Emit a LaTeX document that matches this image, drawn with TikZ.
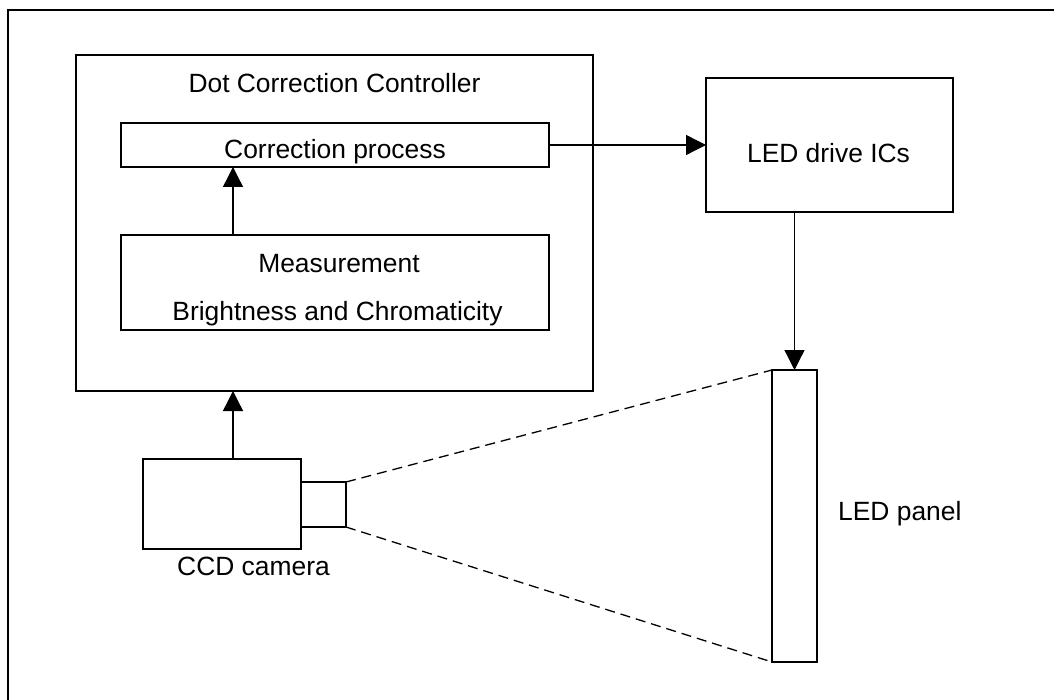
\documentclass[tikz,border=0pt]{standalone}
\usepackage{fontspec}
\setmainfont{Liberation Sans}
\usetikzlibrary{arrows.meta}
\begin{document}
\begin{tikzpicture}[x=1pt,y=-1pt,
  every node/.style={font=\fontsize{26.4}{32}\selectfont},
  box/.style={draw,line width=1.3pt,inner sep=0pt,outer sep=0pt,anchor=north west},
  lbl/.style={inner sep=0pt,anchor=base},
  arr/.style={line width=1.3pt,-{Triangle[length=20pt,width=20pt]}},
  dsh/.style={line width=1.3pt,dash pattern=on 10pt off 6pt}]
\useasboundingbox (0,0) rectangle (1054,700);
\draw[line width=1.3pt] (1070,10) -- (8,10) -- (8,720);
% boxes
\node[box,minimum width=517pt,minimum height=336pt] (ctrl) at (76,55) {};
\node[box,minimum width=428pt,minimum height=44pt] (corr) at (121,123) {};
\node[box,minimum width=428pt,minimum height=95pt] (meas) at (121,235) {};
\node[box,minimum width=247pt,minimum height=134pt] (led) at (706,78) {};
\node[box,minimum width=45pt,minimum height=292pt] (panel) at (772,370) {};
\node[box,minimum width=158pt,minimum height=90pt] (cam) at (143,459) {};
\node[box,minimum width=45pt,minimum height=45pt] (lens) at (301,482) {};
% texts
\node[lbl] (tctrl) at (334.5,93) {Dot Correction Controller};
\node[lbl] (tcorr) at (335,159) {Correction process};
\node[lbl] (tmeas1) at (339,273) {Measurement};
\node[lbl] (tmeas2) at (337.5,321) {Brightness and Chromaticity};
\node[lbl] (tled) at (828.5,163) {LED drive ICs};
\node[lbl,anchor=base west] (tpanel) at (838,520) {LED panel};
\node[lbl] (tcam) at (253.5,575) {CCD camera};
% connectors
\coordinate (ax) at (233,0);
\draw[arr] (meas.north -| ax) -- (corr.south -| ax);
\draw[arr] (cam.north -| ax) -- (ctrl.south -| ax);
\draw[arr] (corr.east) -- (led.west |- corr.east);
\draw[arr] (led.south -| panel.north) -- (panel.north);
\draw[dsh] (lens.north east) -- (panel.north west);
\draw[dsh] (lens.south east) -- (panel.south west);
\end{tikzpicture}
\end{document}
